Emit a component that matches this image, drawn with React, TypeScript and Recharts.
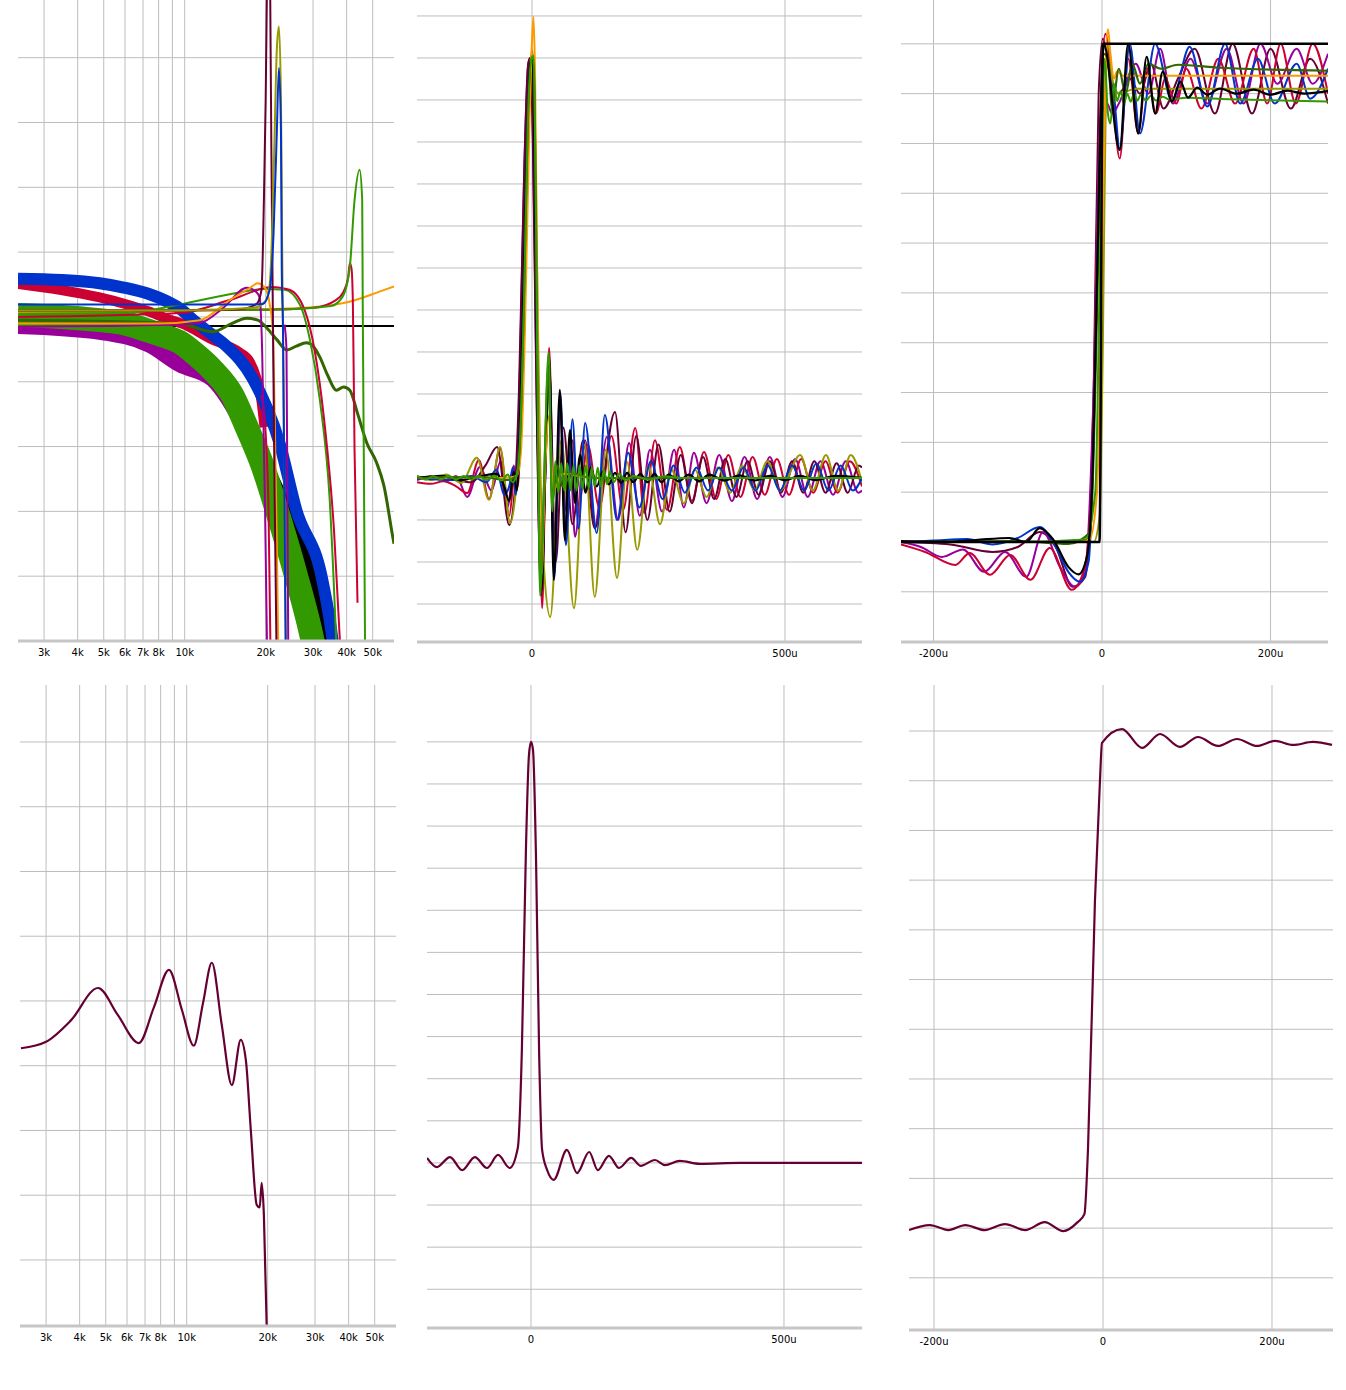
import { CartesianGrid, Line, LineChart, XAxis, YAxis } from "recharts";

type Pt = [number, number];

// ---------- shared axis values ----------
const freqTicks = [3000, 4000, 5000, 6000, 7000, 8000, 9000, 10000, 20000, 30000, 40000, 50000];
const dbTicks = [-4, -3, -2, -1, 0, 1, 2, 3, 4];
const impTicksX = [0, 500];
const impTicksY = [-3, -2, -1, 0, 1, 2, 3, 4, 5, 6, 7, 8, 9, 10, 11];
const impTicksYBottom = [-3, -2, -1, 0, 1, 2, 3, 4, 5, 6, 7, 8, 9, 10];
const stepTicksX = [-200, 0, 200];
const stepTicksY = [-0.1, 0, 0.1, 0.2, 0.3, 0.4, 0.5, 0.6, 0.7, 0.8, 0.9, 1.0];

// ---------- top-left: frequency response (Hz, dB) ----------
const fRef: Pt[] = [[2400, -0.14], [60000, -0.14]];
const fPurpleBand: Pt[] = [[2400, -0.14], [4830, -0.23], [7410, -0.43], [9580, -0.73], [12700, -0.96], [17000, -1.77], [19500, -2.3], [21000, -2.7]];
const fBlackBand: Pt[] = [[2400, -0.06], [4830, -0.12], [7410, -0.3], [9580, -0.48], [12700, -0.9], [15000, -1.25], [17000, -1.65], [20200, -2.3], [24100, -2.98], [29600, -4.01], [32300, -4.78], [34000, -5.4]];
const fGreenBand: Pt[] = [[2400, 0.03], [3500, 0.0], [4830, -0.05], [6000, -0.1], [7410, -0.22], [8500, -0.3], [9580, -0.39], [11000, -0.58], [12700, -0.82], [15000, -1.2], [17000, -1.7], [19500, -2.3], [22000, -2.98], [26000, -4.01], [29100, -4.78], [31000, -5.3]];
const fRedBand: Pt[] = [[2400, 0.51], [3430, 0.42], [4830, 0.3], [6000, 0.2], [7410, 0.08], [8500, -0.02], [10000, -0.12], [12700, -0.35], [14500, -0.45], [16000, -0.55], [17500, -0.7], [18500, -0.95], [19300, -1.3], [19800, -1.7]];
const fBlueBand: Pt[] = [[2400, 0.59], [3500, 0.57], [4830, 0.52], [6000, 0.45], [7410, 0.35], [8500, 0.25], [9580, 0.13], [11000, -0.08], [12700, -0.28], [14300, -0.45], [17900, -0.95], [22500, -1.94], [26000, -2.98], [32300, -4.01], [34900, -4.78], [36500, -5.4]];
const fOrangeFlat: Pt[] = [[2400, 0.08], [9600, 0.1], [20000, 0.12], [29900, 0.15], [40600, 0.23], [53000, 0.39], [60000, 0.47]];
const fOrangeBump: Pt[] = [[2400, -0.1], [8000, -0.1], [11400, -0.05], [14700, 0.26], [17500, 0.45], [18700, 0.52], [19800, 0.46], [20700, 0.2], [21240, -0.2], [21600, -1.5], [22000, -3.5], [22350, -5.5]];
const fPurpleBump: Pt[] = [[2400, -0.15], [9000, -0.12], [11400, -0.09], [14000, 0.15], [17000, 0.45], [18500, 0.38], [19000, 0.3], [19400, -0.5], [19900, -3], [20300, -5.5]];
const fMaroonRes: Pt[] = [[2400, 0.1], [10000, 0.1], [16000, 0.12], [18500, 0.2], [19300, 0.42], [19700, 1.8], [20000, 3.35], [20200, 4.9], [20500, 8], [20800, 4.9], [21000, 2.58], [21300, -0.2], [21600, -2.8], [22000, -5.5]];
const fOliveRes: Pt[] = [[2400, 0.1], [10000, 0.1], [18000, 0.14], [20000, 0.25], [20700, 0.5], [21300, 1.8], [21600, 2.84], [22000, 4.12], [22400, 4.48], [22800, 3.35], [23000, 1.3], [23200, -0.2], [23500, -3], [23800, -5.5]];
const fBlueRes: Pt[] = [[2400, 0.19], [10000, 0.19], [17000, 0.19], [19500, 0.2], [20700, 0.42], [21400, 1.3], [22000, 2.84], [22400, 3.84], [22800, 2.84], [22950, 0.77], [23200, -0.2], [23500, -3], [23800, -5.5]];
const fRedDrop: Pt[] = [[19300, -1.2], [20000, -1.8], [20500, -3], [20900, -5.5]];
const fPurpleDrop: Pt[] = [[23500, -0.12], [23900, -0.5], [24100, -3], [24300, -5.5]];
const fGreenBump: Pt[] = [[2400, 0.0], [6000, 0.05], [9580, 0.19], [14700, 0.35], [19800, 0.43], [23500, 0.42], [26800, 0.19], [29200, -0.35], [31800, -1.28], [34600, -2.82], [37000, -5.5]];
const fRedBump: Pt[] = [[2400, 0.0], [9600, 0.06], [14700, 0.26], [21200, 0.46], [24500, 0.42], [27900, 0.11], [30400, -0.51], [33000, -1.59], [35900, -3.29], [38100, -5.3]];
const fRedPeak: Pt[] = [[2400, 0.1], [20000, 0.11], [30000, 0.14], [36500, 0.26], [38700, 0.37], [40500, 0.6], [41100, 0.83], [41700, 0.75], [42200, 0.2], [42800, -2.05], [43900, -4.41]];
const fGreenPeak: Pt[] = [[2400, 0.1], [20000, 0.11], [35000, 0.17], [38600, 0.31], [41100, 0.77], [42800, 1.8], [44700, 2.27], [45700, 1.8], [45900, 0.26], [46400, -2.5], [46900, -5.5]];
const fOliveDark: Pt[] = [[2400, -0.05], [9600, -0.1], [12700, -0.23], [15000, -0.1], [17000, -0.02], [18700, -0.05], [20200, -0.17], [22000, -0.35], [24000, -0.51], [26000, -0.45], [28400, -0.4], [30000, -0.45], [31800, -0.62], [34000, -0.9], [36700, -1.13], [39000, -1.08], [41100, -1.13], [44000, -1.5], [47500, -1.94], [51700, -2.25], [55000, -2.6], [59400, -3.4], [60000, -3.5]];

// ---------- top-middle: impulse (µs, arbitrary units) ----------
const iOrange: Pt[] = [[-227.3, 0], [-120, 0.02], [-60, 0], [-30, 0.05], [-22, 0.6], [-14, 3.5], [-6, 8], [0, 10.4], [3, 10.98], [6, 9.6], [10, 5], [14, 0], [19, -2.3], [26, 0.2], [34, 1.5], [42, -0.3], [60, 0.1], [120, 0], [652.2, 0]];
const iOlive: Pt[] = [[-227.3, 0.05], [-200, -0.05], [-170, 0.08], [-140, -0.12], [-109, 0.48], [-85, -0.52], [-63, 0.74], [-43, -1.07], [-32, -0.3], [-22, 1.5], [-14, 5.5], [-6, 9.2], [0, 10.2], [4, 9.6], [10, 5], [16, 0.5], [24, -2.2], [36, -3.31], [58, 0.9], [83, -3.1], [104, 0.8], [124, -2.83], [146, 0.67], [168, -2.38], [188, 0.38], [208, -1.71], [230, 0.3], [253, -1.1], [275, 0.2], [300, -0.6], [322, 0.2], [345, -0.45], [368, 0.25], [392, -0.35], [415, 0.3], [440, -0.3], [465, 0.4], [490, -0.3], [530, 0.55], [555, -0.3], [581, 0.55], [605, -0.3], [630, 0.55], [652.2, -0.1]];
const iGreen: Pt[] = [[-227.3, 0.05], [-210, -0.04], [-195, 0.05], [-180, -0.04], [-165, 0.05], [-150, -0.04], [-135, 0.05], [-120, -0.04], [-105, 0.05], [-90, -0.05], [-75, 0.06], [-60, -0.06], [-48, 0.08], [-38, -0.1], [-30, 0.1], [-24, 0.8], [-16, 4], [-8, 8.5], [-1, 10.0], [3, 10.05], [8, 6], [12, 1], [16, -2.8], [22, -0.8], [33, 3.0], [40, -0.8], [46, 0.4], [52, -0.35], [58, 0.35], [64, -0.3], [70, 0.35], [76, -0.3], [82, 0.3], [88, -0.3], [94, 0.3], [100, -0.25], [106, 0.3], [112, -0.25], [118, 0.25], [124, -0.2], [130, 0.25], [136, -0.2], [142, 0.2], [148, -0.15], [154, 0.15], [162, -0.1], [172, 0.1], [185, -0.06], [200, 0.05], [230, -0.04], [260, 0.04], [300, 0], [652.2, 0]];
const iDarkGreen: Pt[] = [[-227.3, 0], [-100, 0.03], [-50, -0.05], [-30, 0.05], [-24, 0.8], [-16, 4.2], [-8, 8.6], [-1, 9.9], [3, 9.9], [8, 6], [12, 1], [17, -2.6], [24, 0], [32, 2.6], [40, -0.6], [50, 0.3], [60, -0.2], [80, 0.1], [120, 0], [652.2, 0]];
const iBlack: Pt[] = [[-227.3, 0], [-180, 0.05], [-140, -0.05], [-100, 0.05], [-70, 0.1], [-55, -0.2], [-45, -0.55], [-36, 0.15], [-30, -0.3], [-22, 2], [-12, 7], [-3, 9.9], [1, 9.95], [7, 6], [12, 0.5], [19, -2.67], [26, 0], [34, 2.88], [43, -2.43], [55, 2.1], [65, -1.48], [75, 1.14], [85, -0.6], [95, 0.55], [106, -0.35], [116, 0.25], [128, -0.2], [140, 0.15], [152, -0.15], [164, 0.12], [176, -0.12], [188, 0.12], [200, -0.1], [214, 0.1], [228, -0.1], [242, 0.1], [256, -0.1], [270, 0.08], [290, -0.08], [310, 0.08], [330, -0.08], [350, 0.08], [380, -0.06], [410, 0.06], [440, -0.06], [470, 0.05], [500, -0.05], [530, 0.05], [560, -0.05], [600, 0.05], [652.2, 0]];
const iBlue: Pt[] = [[-227.3, 0], [-160, -0.05], [-120, 0.05], [-90, -0.1], [-70, 0.2], [-55, -0.4], [-45, -0.2], [-38, 0.25], [-32, -0.4], [-22, 2], [-12, 7], [-3, 9.9], [1, 9.95], [7, 6], [12, 0.5], [19, -2.6], [26, 0], [34, 2.7], [44, -2.4], [56, 2.0], [67, -1.6], [80, 1.4], [92, -1.2], [105, 1.31], [128, -1.31], [144, 1.5], [168, -1.0], [190, 0.6], [212, -0.7], [235, 0.4], [258, -0.5], [280, 0.3], [302, -0.35], [325, 0.25], [348, -0.3], [370, 0.25], [395, -0.3], [418, 0.25], [442, -0.3], [466, 0.3], [490, -0.3], [514, 0.3], [538, -0.3], [562, 0.35], [586, -0.3], [610, 0.3], [634, -0.3], [652.2, 0]];
const iCrimson: Pt[] = [[-227.3, -0.1], [-200, -0.14], [-175, -0.08], [-150, -0.2], [-128, -0.36], [-105, 0.43], [-85, -0.5], [-63, 0.7], [-45, -0.9], [-34, 0.1], [-28, -0.2], [-22, 1.5], [-14, 5.5], [-6, 9.4], [-1, 9.95], [3, 9.6], [8, 5], [13, 0], [20, -3.1], [26, 0], [34, 3.1], [44, -2.2], [56, 1.8], [66, -1.3], [80, 0.9], [92, -0.7], [110, 0.8], [133, -0.7], [157, 1.0], [180, -0.76], [204, 1.19], [222, -0.83], [243, 0.9], [267, -0.76], [292, 0.74], [316, -0.55], [340, 0.62], [364, -0.5], [388, 0.55], [412, -0.45], [436, 0.5], [460, -0.4], [484, 0.45], [508, -0.4], [532, 0.45], [556, -0.35], [580, 0.4], [604, -0.35], [628, 0.4], [652.2, -0.2]];
const iPurple: Pt[] = [[-227.3, -0.05], [-200, 0.03], [-170, -0.08], [-150, 0.05], [-128, -0.45], [-103, 0.26], [-80, -0.3], [-62, 0.4], [-48, -0.7], [-36, 0.3], [-30, -0.2], [-24, 2.5], [-15, 7.5], [-7, 9.9], [-3, 10.0], [2, 8], [8, 3], [14, -1.5], [19, -2.8], [26, 0.3], [34, 2.8], [44, -2.0], [56, 1.5], [68, -0.8], [75, 0.6], [85, -1.4], [105, 0.9], [124, -1.17], [148, 0.98], [170, -1.0], [192, 0.83], [213, -0.9], [233, 0.67], [257, -0.8], [281, 0.67], [300, -0.7], [320, 0.6], [345, -0.6], [370, 0.55], [395, -0.55], [420, 0.5], [445, -0.5], [470, 0.5], [495, -0.45], [520, 0.45], [545, -0.45], [570, 0.4], [595, -0.4], [620, 0.4], [645, -0.35], [652.2, -0.3]];
const iMaroon: Pt[] = [[-227.3, 0], [-180, 0.04], [-150, -0.05], [-120, -0.1], [-92, 0.3], [-69, 0.74], [-45, -1.12], [-34, -0.3], [-26, 2.0], [-16, 7], [-8, 9.8], [-4, 10.0], [1, 8.5], [7, 3.5], [13, -1], [18, -2.8], [26, 0.3], [34, 2.6], [47, -2.0], [62, 1.2], [80, -1.1], [101, 0.9], [124, -1.2], [164, 1.57], [185, -1.29], [206, 1.0], [228, -1.0], [250, 0.8], [272, -0.8], [294, 0.55], [316, -0.6], [338, 0.5], [360, -0.5], [382, 0.45], [404, -0.45], [426, 0.4], [448, -0.4], [470, 0.4], [492, -0.35], [514, 0.4], [536, -0.35], [558, 0.4], [580, -0.35], [602, 0.35], [624, -0.35], [646, 0.3], [652.2, 0.25]];

// ---------- top-right: step (µs, normalised) ----------
const sIdeal: Pt[] = [[-238.6, 0], [-3, 0], [1, 1], [268.2, 1]];
const sBlack: Pt[] = [[-238.6, 0.002], [-190, 0], [-150, 0.004], [-110, 0.008], [-90, 0], [-74, 0.028], [-58, 0.005], [-40, -0.05], [-28, -0.065], [-18, -0.03], [-11, 0.15], [-5, 0.6], [0, 0.95], [2, 1.0], [21, 0.787], [31, 1.0], [43, 0.82], [53, 0.974], [63, 0.86], [72, 0.944], [83, 0.884], [93, 0.924], [102, 0.892], [113, 0.912], [125, 0.898], [140, 0.91], [160, 0.9], [180, 0.908], [200, 0.898], [220, 0.906], [240, 0.9], [268.2, 0.905]];
const sBlue: Pt[] = [[-238.6, 0], [-200, 0.003], [-160, 0.006], [-130, -0.005], [-100, 0.008], [-74, 0.03], [-55, -0.01], [-40, -0.06], [-26, -0.08], [-16, -0.04], [-10, 0.2], [-4, 0.7], [2, 0.95], [8, 0.96], [14, 0.9], [21, 0.79], [33, 1.0], [45, 0.82], [63, 1.0], [83, 0.886], [104, 0.994], [125, 0.874], [146, 1.0], [164, 0.88], [185, 0.97], [205, 0.88], [231, 0.96], [247, 0.89], [268.2, 0.95]];
const sCrimson: Pt[] = [[-238.6, -0.005], [-210, -0.02], [-174, -0.046], [-157, -0.022], [-133, -0.066], [-109, -0.026], [-85, -0.076], [-62, -0.012], [-36, -0.096], [-22, -0.06], [-12, 0.1], [-6, 0.6], [0, 0.95], [4, 1.02], [10, 0.95], [21, 0.77], [31, 0.97], [43, 0.82], [53, 0.95], [64, 0.86], [75, 0.93], [88, 0.88], [100, 0.95], [118, 0.87], [138, 0.97], [158, 0.88], [180, 0.99], [196, 0.88], [212, 1.0], [230, 0.88], [250, 1.0], [268.2, 0.9]];
const sPurple: Pt[] = [[-238.6, 0], [-215, -0.01], [-190, -0.03], [-165, -0.015], [-140, -0.06], [-115, -0.02], [-90, -0.07], [-70, 0.02], [-50, -0.05], [-32, -0.09], [-20, -0.06], [-10, 0.3], [-2, 0.85], [6, 0.88], [12, 0.86], [20, 0.88], [40, 0.96], [55, 0.9], [69, 0.99], [84, 0.88], [105, 0.97], [125, 0.88], [148, 0.99], [168, 0.88], [188, 1.0], [208, 0.92], [231, 0.99], [250, 0.92], [268.2, 0.98]];
const sMaroon: Pt[] = [[-238.6, 0], [-180, -0.005], [-130, -0.02], [-100, -0.01], [-74, 0.02], [-55, -0.01], [-35, -0.09], [-20, -0.07], [-10, 0.3], [-4, 0.9], [1, 1.01], [8, 0.95], [20, 0.9], [33, 0.93], [45, 0.9], [58, 0.96], [73, 0.87], [90, 0.93], [110, 0.99], [134, 0.86], [155, 1.0], [178, 0.86], [200, 0.99], [224, 0.87], [247, 0.97], [268.2, 0.88]];
const sOrange: Pt[] = [[-238.6, 0], [-60, 0], [-15, 0.005], [-6, 0.1], [0, 0.55], [4, 0.95], [7, 1.03], [10, 0.98], [14, 0.93], [18, 0.945], [25, 0.936], [268.2, 0.936]];
const sDarkOlive: Pt[] = [[-238.6, 0], [-100, 0.002], [-40, -0.004], [-14, 0.02], [-4, 0.6], [2, 0.98], [7, 0.97], [12, 0.87], [20, 0.95], [28, 0.9], [36, 0.96], [45, 0.92], [55, 0.96], [70, 0.95], [90, 0.958], [140, 0.952], [268.2, 0.946]];
const sGreen: Pt[] = [[-238.6, 0], [-100, 0], [-20, 0.005], [-8, 0.1], [-2, 0.6], [3, 0.97], [7, 0.86], [10, 0.84], [14, 0.92], [18, 0.885], [22, 0.905], [26, 0.88], [30, 0.9], [34, 0.884], [38, 0.9], [42, 0.886], [46, 0.898], [52, 0.886], [58, 0.896], [64, 0.886], [72, 0.894], [80, 0.888], [100, 0.892], [150, 0.889], [200, 0.887], [268.2, 0.884]];
const sOlive: Pt[] = [[-238.6, 0], [-10, 0], [-3, 0.05], [1, 0.4], [5, 0.95], [8, 1.0], [12, 0.93], [20, 0.9], [40, 0.91], [268.2, 0.91]];

// ---------- bottom row: single measurement ----------
const bFreq: Pt[] = [[2420, -0.73], [3000, -0.63], [3710, -0.3], [4680, 0.2], [5550, -0.22], [6640, -0.65], [7550, -0.1], [8590, 0.48], [9600, -0.14], [10620, -0.69], [11500, -0.03], [12400, 0.59], [13500, -0.37], [14720, -1.3], [15880, -0.6], [16590, -0.91], [17310, -1.99], [18210, -3.15], [18680, -3.19], [19000, -2.81], [19360, -3.3], [19850, -5.08]];
const bImp: Pt[] = [[-205.5, 0.12], [-186, -0.1], [-160, 0.14], [-136, -0.17], [-111, 0.14], [-87, -0.12], [-65, 0.19], [-42, -0.12], [-26, 0.36], [-18, 2.68], [-10, 7.43], [-4, 9.69], [0, 10.0], [4, 9.81], [10, 7.2], [16, 2.68], [22, 0.31], [32, -0.17], [45, -0.4], [71, 0.31], [91, -0.24], [115, 0.26], [132, -0.17], [154, 0.17], [174, -0.12], [198, 0.12], [217, -0.07], [245, 0.07], [265, -0.05], [294, 0.05], [334, -0.02], [413, 0], [654.2, 0]];
const bStep: Pt[] = [[-229.6, -0.004], [-205, 0.006], [-183, -0.004], [-163, 0.006], [-140, -0.004], [-116, 0.008], [-92, -0.004], [-69, 0.012], [-47, -0.006], [-30, 0.012], [-22, 0.028], [-17.8, 0.157], [-9.5, 0.66], [-3.6, 0.9], [-1.2, 0.976], [22.5, 1.004], [46.2, 0.966], [67.5, 0.994], [91.1, 0.968], [112.4, 0.988], [136.1, 0.97], [158.6, 0.984], [182.2, 0.97], [203.6, 0.98], [224.9, 0.972], [248.5, 0.978], [271, 0.972]];

const C = {
  black: "#000000",
  blue: "#0033cc",
  red: "#cc0033",
  green: "#339900",
  darkGreen: "#336600",
  purple: "#990099",
  maroon: "#660033",
  orange: "#ff9900",
  olive: "#999900",
};

type Series = { pts: Pt[]; color: string; w: number };

const rows = (pts: Pt[]) => pts.map(([x, y]) => ({ x, y }));
const kFmt = (v: number) => (v === 9000 ? "" : `${v / 1000}k`);
const uFmt = (v: number) => (v === 0 ? "0" : `${v}u`);
const tickStyle = { fontSize: 10, fill: "#000", fontFamily: "DejaVu Sans" };
const NoTick = () => <g />;

function Panel(props: {
  left: number;
  top: number;
  width: number;
  plotH: number;
  xDomain: [number, number];
  yDomain: [number, number];
  xTicks: number[];
  yTicks: number[];
  fmt: (v: number) => string;
  log?: boolean;
  series: Series[];
}) {
  const { left, top, width, plotH, xDomain, yDomain, xTicks, yTicks, fmt, log, series } = props;
  return (
    <div style={{ position: "absolute", left, top }}>
      <LineChart width={width} height={plotH + 24} margin={{ top: 0, right: 0, bottom: 0, left: 0 }}>
        <CartesianGrid stroke="#bdbdbd" strokeWidth={1} syncWithTicks />
        <XAxis
          dataKey="x"
          type="number"
          scale={log ? "log" : "linear"}
          domain={xDomain}
          ticks={xTicks}
          allowDataOverflow
          interval={0}
          tickFormatter={fmt}
          tickLine={false}
          axisLine={{ stroke: "#c6c6c6", strokeWidth: 3 }}
          tick={tickStyle}
          height={24}
        />
        <YAxis type="number" domain={yDomain} ticks={yTicks} interval={0} allowDataOverflow width={0} tick={NoTick} axisLine={false} tickLine={false} />
        {series.map((s, i) => (
          <Line
            key={i}
            data={rows(s.pts)}
            dataKey="y"
            type="monotone"
            stroke={s.color}
            strokeWidth={s.w}
            strokeLinejoin="round"
            dot={false}
            activeDot={false}
            isAnimationActive={false}
          />
        ))}
      </LineChart>
    </div>
  );
}

export default function App() {
  const freqSeries: Series[] = [
    { pts: fRef, color: C.black, w: 2 },
    { pts: fPurpleBand, color: C.purple, w: 16 },
    { pts: fBlackBand, color: C.black, w: 12 },
    { pts: fGreenBand, color: C.green, w: 24 },
    { pts: fRedBand, color: C.red, w: 10 },
    { pts: fBlueBand, color: C.blue, w: 12 },
    { pts: fOliveDark, color: C.darkGreen, w: 3 },
    { pts: fOrangeFlat, color: C.orange, w: 2 },
    { pts: fGreenBump, color: C.green, w: 2 },
    { pts: fRedBump, color: C.red, w: 2 },
    { pts: fRedPeak, color: C.red, w: 2 },
    { pts: fGreenPeak, color: C.green, w: 2 },
    { pts: fRedDrop, color: C.red, w: 2 },
    { pts: fPurpleDrop, color: C.purple, w: 2 },
    { pts: fPurpleBump, color: C.purple, w: 2 },
    { pts: fOrangeBump, color: C.orange, w: 2 },
    { pts: fMaroonRes, color: C.maroon, w: 2 },
    { pts: fOliveRes, color: C.olive, w: 2 },
    { pts: fBlueRes, color: C.blue, w: 2 },
  ];
  const impSeries: Series[] = [
    { pts: iPurple, color: C.purple, w: 2 },
    { pts: iCrimson, color: C.red, w: 2 },
    { pts: iMaroon, color: C.maroon, w: 2 },
    { pts: iOlive, color: C.olive, w: 2 },
    { pts: iBlue, color: C.blue, w: 2 },
    { pts: iBlack, color: C.black, w: 2.2 },
    { pts: iOrange, color: C.orange, w: 2 },
    { pts: iDarkGreen, color: C.darkGreen, w: 2 },
    { pts: iGreen, color: C.green, w: 2 },
  ];
  const stepSeries: Series[] = [
    { pts: sMaroon, color: C.maroon, w: 2 },
    { pts: sPurple, color: C.purple, w: 2 },
    { pts: sCrimson, color: C.red, w: 2 },
    { pts: sBlue, color: C.blue, w: 2 },
    { pts: sOlive, color: C.olive, w: 2 },
    { pts: sOrange, color: C.orange, w: 2 },
    { pts: sDarkOlive, color: C.darkGreen, w: 2.2 },
    { pts: sGreen, color: C.green, w: 2 },
    { pts: sBlack, color: C.black, w: 2.2 },
    { pts: sIdeal, color: C.black, w: 2.5 },
  ];

  return (
    <div style={{ position: "absolute", left: 0, top: 0, width: 1346, height: 1390, background: "#fff" }}>
      <Panel left={18} top={0} width={376} plotH={641} xDomain={[2400, 60000]} yDomain={[-5.0, 4.89]} xTicks={freqTicks} yTicks={dbTicks} fmt={kFmt} log series={freqSeries} />
      <Panel left={417} top={0} width={445} plotH={642} xDomain={[-227.3, 652.2]} yDomain={[-3.905, 11.38]} xTicks={impTicksX} yTicks={impTicksY} fmt={uFmt} series={impSeries} />
      <Panel left={901} top={0} width={427} plotH={642} xDomain={[-238.6, 268.2]} yDomain={[-0.2008, 1.088]} xTicks={stepTicksX} yTicks={stepTicksY} fmt={uFmt} series={stepSeries} />
      <Panel left={20} top={685} width={376} plotH={641} xDomain={[2400, 60000]} yDomain={[-5.02, 4.88]} xTicks={freqTicks} yTicks={dbTicks} fmt={kFmt} log series={[{ pts: bFreq, color: C.maroon, w: 2.2 }]} />
      <Panel left={427} top={685} width={435} plotH={643} xDomain={[-205.5, 654.2]} yDomain={[-3.92, 11.35]} xTicks={impTicksX} yTicks={impTicksYBottom} fmt={uFmt} series={[{ pts: bImp, color: C.maroon, w: 2.2 }]} />
      <Panel left={909} top={685} width={424} plotH={645} xDomain={[-229.6, 272.2]} yDomain={[-0.205, 1.0926]} xTicks={stepTicksX} yTicks={stepTicksY} fmt={uFmt} series={[{ pts: bStep, color: C.maroon, w: 2.2 }]} />
    </div>
  );
}
